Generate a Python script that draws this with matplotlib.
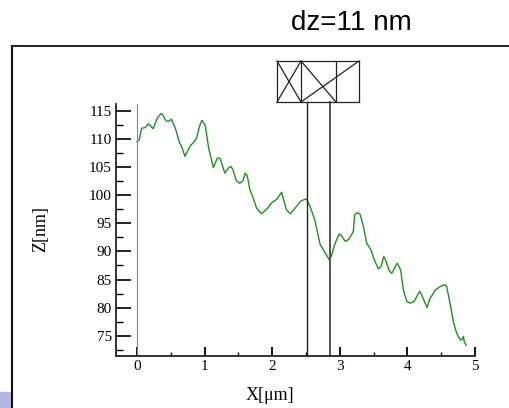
import matplotlib
matplotlib.use("Agg")
import matplotlib.pyplot as plt
from matplotlib.ticker import MultipleLocator
from matplotlib.patches import Rectangle
import matplotlib.transforms as mtransforms

# Profil de hauteur (X en µm, Z en nm)
x_um = [0.00, 0.03, 0.07, 0.12, 0.17, 0.24, 0.30, 0.355, 0.38, 0.43, 0.47, 0.51,
        0.57, 0.63, 0.66, 0.71, 0.79, 0.84, 0.88, 0.93, 0.96, 1.01, 1.06, 1.13,
        1.19, 1.23, 1.30, 1.35, 1.39, 1.42, 1.47, 1.52, 1.57, 1.60, 1.63, 1.67,
        1.71, 1.77, 1.84, 1.92, 1.99, 2.07, 2.14, 2.21, 2.27, 2.34, 2.41, 2.47,
        2.51, 2.56, 2.63, 2.71, 2.77, 2.85, 2.88, 2.93, 2.99, 3.03, 3.08, 3.13,
        3.18, 3.20, 3.22, 3.26, 3.30, 3.35, 3.40, 3.46, 3.51, 3.57, 3.61, 3.65,
        3.68, 3.73, 3.77, 3.82, 3.85, 3.90, 3.94, 3.99, 4.04, 4.10, 4.18, 4.21,
        4.29, 4.33, 4.41, 4.48, 4.55, 4.58, 4.63, 4.68, 4.72, 4.75, 4.79, 4.81,
        4.83, 4.84, 4.87]
z_nm = [109.5, 109.7, 111.9, 112.0, 112.7, 111.8, 113.7, 114.5, 114.3, 113.2, 113.1, 113.5,
        111.8, 109.3, 108.7, 106.9, 108.8, 109.4, 110.1, 112.4, 113.3, 112.4, 108.4, 104.9,
        106.6, 106.5, 103.9, 104.8, 105.1, 104.5, 102.6, 102.1, 102.6, 103.9, 103.5, 101.0,
        99.8, 97.7, 96.7, 97.5, 98.6, 99.3, 100.5, 97.4, 96.7, 97.7, 98.8, 99.2,
        99.3, 98.0, 95.6, 91.2, 90.0, 88.4, 89.4, 91.4, 93.1, 92.7, 91.8, 92.1,
        93.1, 93.5, 96.5, 96.9, 96.6, 94.4, 91.4, 90.3, 88.5, 86.9, 87.3, 89.1,
        88.4, 86.6, 86.1, 87.3, 87.9, 86.7, 83.2, 81.1, 80.8, 81.1, 82.9, 82.3,
        80.0, 81.5, 83.1, 83.7, 84.1, 83.8, 80.8, 77.5, 75.8, 74.9, 74.2, 74.4,
        74.9, 74.0, 73.3]

# positions des deux curseurs
curseurs = [2.51, 2.855]

W, H = 509, 408

def px(x, y):
    # pixels -> fraction de la figure
    return x / W, 1 - y / H

fig = plt.figure(figsize=(W / 100, H / 100), dpi=100)
ax = fig.add_axes([116 / W, 1 - 356 / H, (475 - 116) / W, (356 - 104) / H])

ax.plot(x_um, z_nm, color="#1f8f1f", lw=1.0)
ax.axvline(0, color="#888888", lw=0.8)

ax.set_xlim(-0.31, 5.0)
ax.set_ylim(71.4, 116.2)
for s in ["top", "right"]:
    ax.spines[s].set_visible(False)
for s in ["left", "bottom"]:
    ax.spines[s].set_linewidth(1.3)
    ax.spines[s].set_color("#222222")

ax.xaxis.set_major_locator(MultipleLocator(1))
ax.xaxis.set_minor_locator(MultipleLocator(0.5))
ax.yaxis.set_major_locator(MultipleLocator(5))
ax.yaxis.set_minor_locator(MultipleLocator(2.5))
ax.tick_params(axis="y", which="major", direction="in", length=10.5, width=1.2, pad=3)
ax.tick_params(axis="y", which="minor", direction="in", length=5, width=1.0)
ax.tick_params(axis="x", which="major", direction="in", length=6.2, width=1.3, pad=3)
ax.tick_params(axis="x", which="minor", direction="in", length=2.6, width=1.0)
for lab in ax.get_xticklabels() + ax.get_yticklabels():
    lab.set_fontfamily("Liberation Serif")
    lab.set_fontsize(11)

# curseurs verticaux qui montent jusqu'a la boite
trans = mtransforms.blended_transform_factory(ax.transData, ax.transAxes)
top_ax = (356 - 102) / (356 - 104)
ax.plot([curseurs[0]] * 2, [0, top_ax], color="#222222", lw=1.0, transform=trans, clip_on=False)
ax.plot([curseurs[1]] * 2, [0, top_ax], color="#555555", lw=1.4, transform=trans, clip_on=False)

# boite en haut
ft = fig.transFigure
bx0, bx1, bxa, bxb = 277, 359, 301, 336
by0, by1 = 61, 102
lignes = [
    [(bx0, by0), (bx1, by0)], [(bx0, by1), (bx1, by1)],
    [(bx0, by0), (bx0, by1)], [(bxa, by0), (bxa, by1)],
    [(bxb, by0), (bxb, by1)], [(bx1, by0), (bx1, by1)],
    [(bx0, by0), (bxa, by1)], [(bx0, by1), (bxa, by0)],
    [(bxa, by0), (bxb, by1)], [(bxa, by1), (bx1, by0)],
]
for (p, q) in lignes:
    a, b = px(*p), px(*q)
    fig.add_artist(plt.Line2D([a[0], b[0]], [a[1], b[1]], color="#222222", lw=0.9, transform=ft))

# cadre exterieur
fig.add_artist(plt.Line2D([px(12, 0)[0]] * 2, [px(0, 46)[1], 0], color="#111111", lw=1.5, transform=ft))
fig.add_artist(plt.Line2D([px(12, 0)[0], 1], [px(0, 46)[1]] * 2, color="#111111", lw=1.3, transform=ft))
fig.add_artist(Rectangle((0, 0), 11 / W, 16 / H, color="#b3b7e6", transform=ft))

fig.text(*px(21, 49), "`", fontsize=6, ha="center", va="center", color="#555555")
fig.text(*px(351, 23), "dz=11 nm", fontsize=20, family="Liberation Sans", ha="center", va="center")
fig.text(*px(270, 395), "X[\u03bcm]", fontsize=13, family="Liberation Serif", ha="center", va="center")
fig.text(*px(41, 229), "Z[nm]", fontsize=13, family="Liberation Serif", ha="center", va="center",
         rotation=90)

fig.savefig("out.png", dpi=100)
